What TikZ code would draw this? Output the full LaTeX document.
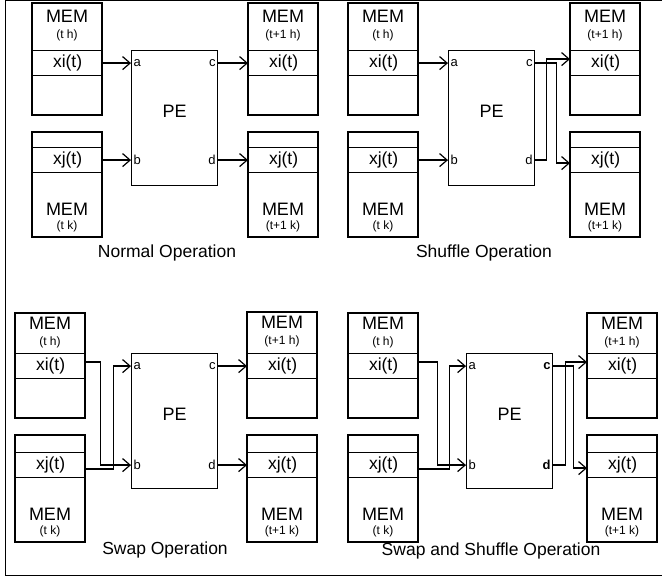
\documentclass[tikz,border=0pt]{standalone}
\usepackage{fontspec}
\setmainfont{Liberation Sans}
\usetikzlibrary{arrows.meta,calc}

\begin{document}
\begin{tikzpicture}[x=1pt, y=-1pt, line width=1.2pt,
  row/.style={draw, minimum width=70pt, minimum height=25pt, anchor=north west, inner sep=0pt, font=\fontsize{17.5}{18}\selectfont},
  big/.style={font=\fontsize{18}{18}\selectfont},
  optitle/.style={font=\fontsize{17.5}{18}\selectfont},
  lbl/.style={font=\fontsize{12}{12}\selectfont},
  port/.style={font=\fontsize{13}{13}\selectfont, inner sep=2pt},
  pe/.style={draw, minimum width=86pt, minimum height=135pt, anchor=north west},
  arr/.style={-{Straight Barb[length=7.5pt,width=13pt]}}]
  \useasboundingbox (0,0) rectangle (662,577);
  % frame
  \draw[line width=1pt] (662,1) -- (5,1) -- (5,575) -- (662,575);
  % MEM boxes holding xi(t)
  \foreach \nm/\xa/\ya/\yb/\lb in {ni/32/3/50/t h, no/248/3/50/t+1 h, si/348/3/50/t h, so/570/3/50/t+1 h,
      wi/15/313/353/t h, wo/247/312/353/t+1 h, bi/348/313/353/t h, bo/587/313/353/t+1 h}{
    \draw (\xa,\ya) rectangle (\xa+70,\yb+65);
    \node[row] (\nm) at (\xa,\yb) {xi(t)};
    \node[big] (\nm-m) at (\xa+35,{(\ya+\yb)/2-10}) {MEM};
    \node[lbl] (\nm-l) at (\xa+35,{(\ya+\yb)/2+9}) {(\lb)};
  }
  % MEM boxes holding xj(t)
  \foreach \nm/\xa/\ya/\yb/\lb in {nj/32/132/147/t k, np/248/132/147/t+1 k, sj/348/132/147/t k, sp/570/132/147/t+1 k,
      wj/15/435/452/t k, wp/247/435/452/t+1 k, bj/348/435/452/t k, bp/587/435/452/t+1 k}{
    \draw (\xa,\ya) rectangle (\xa+70,\yb+90);
    \node[row] (\nm) at (\xa,\yb) {xj(t)};
    \node[big] (\nm-m) at (\xa+35,\yb+62) {MEM};
    \node[lbl] (\nm-l) at (\xa+35,\yb+79) {(\lb)};
  }
  % processing elements and their ports
  \foreach \p/\xa/\ya/\ri/\rj/\f in {pn/131/50/ni/nj/\mdseries, ps/448/50/si/sj/\mdseries,
      pw/131/353/wi/wj/\mdseries, pb/466/353/bi/bj/\bfseries}{
    \node[pe] (\p) at (\xa,\ya) {};
    \node[big] (\p-t) at ($(\p)+(0,-7)$) {PE};
    \coordinate (\p-a) at (\p.west |- \ri);
    \coordinate (\p-b) at (\p.west |- \rj);
    \coordinate (\p-c) at (\p.east |- \ri);
    \coordinate (\p-d) at (\p.east |- \rj);
    \node[port, anchor=west] (\p-la) at (\p-a) {a};
    \node[port, anchor=west] (\p-lb) at (\p-b) {b};
    \node[port, anchor=east] (\p-lc) at (\p-c) {\f c};
    \node[port, anchor=east] (\p-ld) at (\p-d) {\f d};
  }
  % normal
  \draw[arr] (ni) -- (pn-a);
  \draw[arr] (nj) -- (pn-b);
  \draw[arr] (pn-c) -- (no);
  \draw[arr] (pn-d) -- (np);
  % shuffle
  \draw[arr] (si) -- (ps-a);
  \draw[arr] (sj) -- (ps-b);
  \draw[arr] (ps-c) -- ++(21,0) |- ($(sp.west)+(0,3)$);
  \draw[arr] (ps-d) -- ++(11,0) |- ($(so.west)+(0,-4)$);
  % swap
  \draw[arr] ($(wi.east)+(0,-4)$) -- ++(14,0) |- (pw-b);
  \draw[arr] ($(wj.east)+(0,4)$) -- ++(27,0) |- (pw-a);
  \draw[arr] (pw-c) -- (wo);
  \draw[arr] (pw-d) -- (wp);
  % swap and shuffle
  \draw[arr] ($(bi.east)+(0,-4)$) -- ++(18,0) |- (pb-b);
  \draw[arr] ($(bj.east)+(0,4)$) -- ++(30,0) |- (pb-a);
  \draw[arr] (pb-c) -- ++(20,0) |- ($(bp.west)+(0,3)$);
  \draw[arr] (pb-d) -- ++(12,0) |- ($(bo.west)+(0,-4)$);
  % captions
  \node[optitle] (cap-n) at (167,253) {Normal Operation};
  \node[optitle] (cap-s) at (484,253) {Shuffle Operation};
  \node[optitle] (cap-w) at (165,550) {Swap Operation};
  \node[optitle] (cap-b) at (491,551) {Swap and Shuffle Operation};
\end{tikzpicture}
\end{document}
